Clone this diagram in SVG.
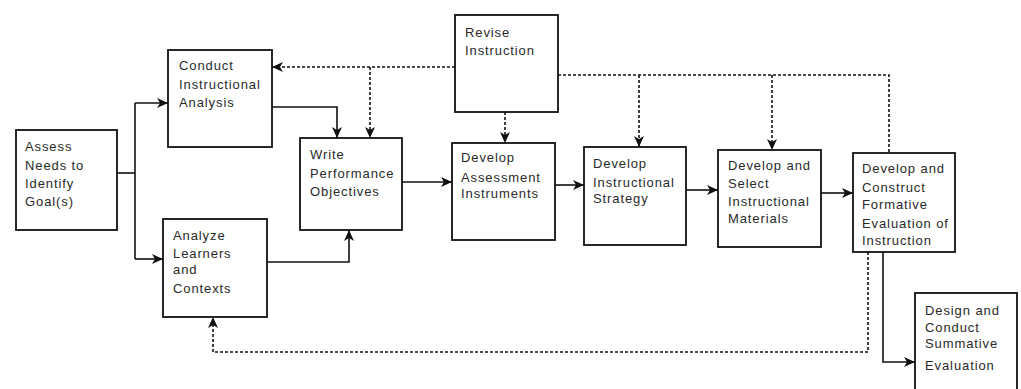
<svg xmlns="http://www.w3.org/2000/svg" width="1021" height="389" viewBox="0 0 1021 389">
<style>
.box{fill:#fff;stroke:#111;stroke-width:1.8}
.t{font-family:"Liberation Sans",Arial,sans-serif;font-size:13px;letter-spacing:0.9px;fill:#2a2a2a}
.c{fill:none;stroke:#111;stroke-width:1.6}
.d{fill:none;stroke:#111;stroke-width:1.6;stroke-dasharray:3 2}
</style>
<defs>
<marker id="ah" markerUnits="userSpaceOnUse" markerWidth="11" markerHeight="10" refX="11" refY="5" orient="auto">
<path d="M0,0 L11,5 L0,10 L3,5 z" fill="#111"/>
</marker>
</defs>
<rect width="1021" height="389" fill="#fff"/>
<g id="connectors">
<path class="c" d="M117,173 H135"/>
<path class="c" d="M135,103 V259"/>
<path class="c" d="M135,103 H168" marker-end="url(#ah)"/>
<path class="c" d="M135,259 H163" marker-end="url(#ah)"/>
<path class="c" d="M272,107 H337 V138" marker-end="url(#ah)"/>
<path class="c" d="M267,262 H349 V230" marker-end="url(#ah)"/>
<path class="c" d="M402,182 H452" marker-end="url(#ah)"/>
<path class="c" d="M555,185 H584" marker-end="url(#ah)"/>
<path class="c" d="M686,190 H718" marker-end="url(#ah)"/>
<path class="c" d="M821,193 H853" marker-end="url(#ah)"/>
<path class="c" d="M883,252 V362 H915" marker-end="url(#ah)"/>
<path class="d" d="M455,67 H272" marker-end="url(#ah)"/>
<path class="d" d="M370,67 V138" marker-end="url(#ah)"/>
<path class="d" d="M505,112 V143" marker-end="url(#ah)"/>
<path class="d" d="M558,75 H889 V153"/>
<path class="d" d="M639,75 V147" marker-end="url(#ah)"/>
<path class="d" d="M772,75 V150" marker-end="url(#ah)"/>
<path class="d" d="M868,252 V352 H213 V317" marker-end="url(#ah)"/>
</g>
<g id="assess">
<rect class="box" x="16" y="130" width="101" height="100"/>
<text class="t" x="25" y="151">Assess</text>
<text class="t" x="25" y="170">Needs to</text>
<text class="t" x="25" y="188">Identify</text>
<text class="t" x="25" y="206">Goal(s)</text>
</g>
<g id="conduct">
<rect class="box" x="168" y="50" width="104" height="97"/>
<text class="t" x="179" y="70">Conduct</text>
<text class="t" x="179" y="89">Instructional</text>
<text class="t" x="179" y="107">Analysis</text>
</g>
<g id="analyze">
<rect class="box" x="163" y="219" width="104" height="98"/>
<text class="t" x="173" y="240">Analyze</text>
<text class="t" x="173" y="258">Learners</text>
<text class="t" x="173" y="274">and</text>
<text class="t" x="173" y="293">Contexts</text>
</g>
<g id="write">
<rect class="box" x="300" y="138" width="102" height="92"/>
<text class="t" x="310" y="159">Write</text>
<text class="t" x="310" y="178">Performance</text>
<text class="t" x="310" y="196">Objectives</text>
</g>
<g id="revise">
<rect class="box" x="455" y="15" width="103" height="97"/>
<text class="t" x="465" y="37">Revise</text>
<text class="t" x="465" y="55">Instruction</text>
</g>
<g id="assessment">
<rect class="box" x="452" y="143" width="103" height="97"/>
<text class="t" x="461" y="162">Develop</text>
<text class="t" x="461" y="182">Assessment</text>
<text class="t" x="461" y="198">Instruments</text>
</g>
<g id="strategy">
<rect class="box" x="584" y="147" width="102" height="98"/>
<text class="t" x="593" y="168">Develop</text>
<text class="t" x="593" y="187">Instructional</text>
<text class="t" x="593" y="203">Strategy</text>
</g>
<g id="materials">
<rect class="box" x="718" y="150" width="103" height="97"/>
<text class="t" x="728" y="170">Develop and</text>
<text class="t" x="728" y="188">Select</text>
<text class="t" x="728" y="206">Instructional</text>
<text class="t" x="728" y="223">Materials</text>
</g>
<g id="formative">
<rect class="box" x="853" y="153" width="102" height="99"/>
<text class="t" x="862" y="173">Develop and</text>
<text class="t" x="862" y="192">Construct</text>
<text class="t" x="862" y="209">Formative</text>
<text class="t" x="862" y="228">Evaluation of</text>
<text class="t" x="862" y="245">Instruction</text>
</g>
<g id="summative">
<rect class="box" x="915" y="293" width="102" height="100"/>
<text class="t" x="925" y="315">Design and</text>
<text class="t" x="925" y="332">Conduct</text>
<text class="t" x="925" y="348">Summative</text>
<text class="t" x="925" y="370">Evaluation</text>
</g>
</svg>
